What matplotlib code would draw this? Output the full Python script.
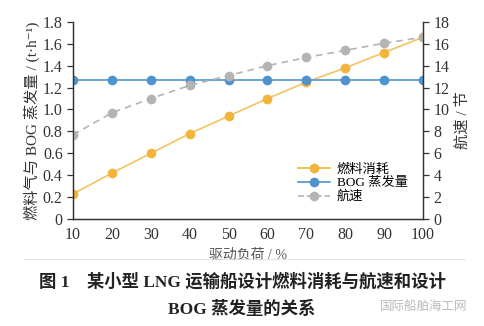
import matplotlib.pyplot as plt
import matplotlib.lines as mlines

plt.rcParams['font.family'] = ['Liberation Serif', 'Noto Sans CJK SC', 'DejaVu Sans']

# data
load = [10, 20, 30, 40, 50, 60, 70, 80, 90, 100]
fuel = [0.23, 0.42, 0.60, 0.78, 0.94, 1.10, 1.25, 1.38, 1.52, 1.66]
bog = [1.27, 1.27, 1.27, 1.27, 1.27, 1.27, 1.27, 1.27, 1.27, 1.27]
speed = [7.7, 9.7, 11.0, 12.2, 13.1, 14.0, 14.75, 15.4, 16.05, 16.6]

orange = '#F2B43A'
blue = '#4F93CC'
grey = '#B4B4B4'
txt = '#333333'

fig = plt.figure(figsize=(4.84, 3.26), dpi=100)
ax = fig.add_axes([0.151, 0.328, 0.723, 0.605])
ax2 = ax.twinx()

ax.plot(load, fuel, '-', color=orange, lw=1.2, alpha=0.8)
ax.plot(load, fuel, 'o', color=orange, ms=7, mec='none')
ax.plot(load, bog, '-', color=blue, lw=1.4, alpha=0.85)
ax.plot(load, bog, 'o', color=blue, ms=7, mec='none')
ax2.plot(load, speed, '--', color=grey, lw=1.2, dashes=(4, 3))
ax2.plot(load, speed, 'o', color=grey, ms=7, mec='none')

ax.set_xlim(10, 100)
ax.set_ylim(0, 1.8)
ax2.set_ylim(0, 18)
ax.set_xticks(load)
ax.set_yticks([0, 0.2, 0.4, 0.6, 0.8, 1.0, 1.2, 1.4, 1.6, 1.8])
ax.set_yticklabels(['0', '0.2', '0.4', '0.6', '0.8', '1.0', '1.2', '1.4', '1.6', '1.8'])
ax2.set_yticks(range(0, 19, 2))

for a in (ax, ax2):
    a.spines['top'].set_visible(False)
    for s in a.spines.values():
        s.set_color(txt)
        s.set_linewidth(0.9)
    a.tick_params(labelsize=11.5, colors=txt, length=4, width=0.9)
ax.tick_params(axis='x', length=0, pad=6)

ax.set_ylabel('燃料气与 BOG 蒸发量 / (t·h⁻¹)', fontsize=11, color=txt, labelpad=2)
ax2.set_ylabel('航速 / 节', fontsize=11, color=txt, labelpad=4)
ax.set_xlabel('驱动负荷 / %', fontsize=10, color='#555555', labelpad=4)

h1 = mlines.Line2D([], [], color=orange, marker='o', ms=7, mec='none', lw=1.2)
h2 = mlines.Line2D([], [], color=blue, marker='o', ms=7, mec='none', lw=1.2)
h3 = mlines.Line2D([], [], color=grey, marker='o', ms=7, mec='none', lw=1.2, ls='--')
ax.legend([h1, h2, h3], ['燃料消耗', 'BOG 蒸发量', '航速'], loc='lower right',
          bbox_to_anchor=(0.99, 0.02), frameon=False, fontsize=9.5,
          handlelength=2.4, labelspacing=0.1, handletextpad=0.5)

fig.add_artist(mlines.Line2D([0.05, 0.96], [0.205, 0.205], color='#DDDDDD', lw=0.6))

fig.text(0.5, 0.135, '图 1　某小型 LNG 运输船设计燃料消耗与航速和设计',
         ha='center', va='center', fontsize=12.5, fontweight='bold', color='#222222')
fig.text(0.5, 0.05, 'BOG 蒸发量的关系', ha='center', va='center',
         fontsize=12.5, fontweight='bold', color='#222222')
fig.text(0.965, 0.06, '国际船舶海工网', ha='right', va='center', fontsize=9,
         color='#BBBBBB', family='Noto Sans CJK SC')

fig.savefig('out.png', dpi=100)
